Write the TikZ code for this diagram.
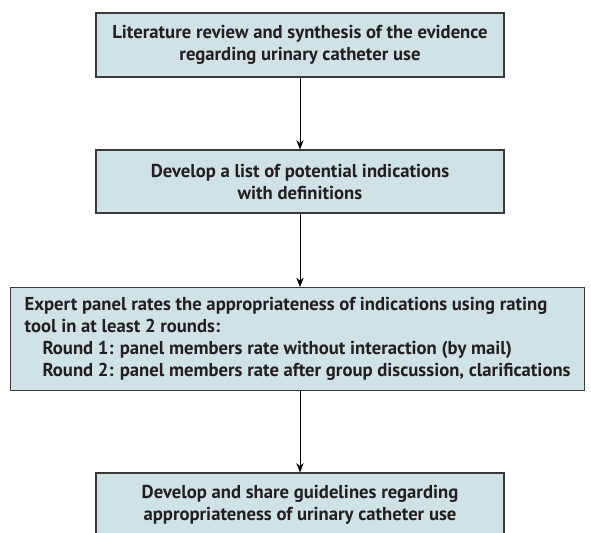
\documentclass[tikz,border=0pt]{standalone}
\usepackage{fontspec}
\setmainfont{PT Sans}
\usetikzlibrary{arrows.meta}
\definecolor{boxfill}{HTML}{CFE3E6}
\definecolor{boxline}{HTML}{3A3A3A}
\definecolor{boxtext}{HTML}{231F20}
\tikzset{
  stepbox/.style={draw=boxline, line width=0.9pt, fill=boxfill, text=boxtext,
    font=\bfseries\fontsize{14}{16.5}\selectfont, align=center, inner sep=0pt,
    minimum width=306pt, minimum height=48pt},
  flow/.style={-{Stealth[length=7pt,width=5.5pt]}, line width=0.6pt, black}
}
\begin{document}
\begin{tikzpicture}[x=0.75pt,y=-0.75pt]
\useasboundingbox (0,0) rectangle (591,532);
% boxes
\node[stepbox] (review) at (300,45) {Literature review and synthesis of the evidence\\regarding urinary catheter use};
\node[stepbox, minimum height=47.25pt] (indications) at (300,181.5) {Develop a list of potential indications\\with definitions};
\node[stepbox, anchor=north west, minimum width=430.5pt, minimum height=77pt, align=left] (panel) at (10,287)
  {Expert panel rates the appropriateness of indications using rating\\
   tool in at least 2 rounds:\\
   \hspace*{13.5pt}Round 1: panel members rate without interaction (by mail)\\
   \hspace*{13.5pt}Round 2: panel members rate after group discussion, clarifications};
\node[stepbox] (guidelines) at (300,505) {Develop and share guidelines regarding\\appropriateness of urinary catheter use};
% arrows
\draw[flow] (review) -- (indications);
\draw[flow] (indications.south) -- (indications.south |- panel.north);
\draw[flow] (guidelines.north |- panel.south) -- (guidelines.north);
\end{tikzpicture}
\end{document}
